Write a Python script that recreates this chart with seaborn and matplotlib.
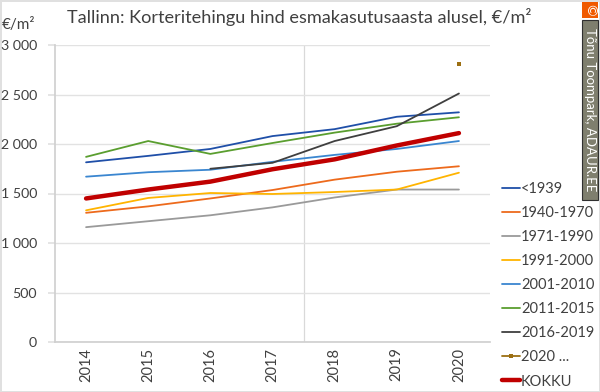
import matplotlib
matplotlib.use("Agg")
import matplotlib.pyplot as plt
from matplotlib.patches import Rectangle
import numpy as np
import pandas as pd
import seaborn as sns

years = [2014, 2015, 2016, 2017, 2018, 2019, 2020]
yticks = [0, 500, 1000, 1500, 2000, 2500, 3000]
ytick_labels = ["0", "500", "1 000", "1 500", "2 000", "2 500", "3 000"]

v_1939 = [1815, 1880, 1950, 2080, 2150, 2275, 2320]
v_1940 = [1305, 1370, 1450, 1535, 1640, 1720, 1775]
v_1971 = [1160, 1220, 1280, 1360, 1460, 1540, 1540]
v_1991 = [1330, 1455, 1505, 1495, 1515, 1540, 1710]
v_2001 = [1670, 1715, 1740, 1820, 1890, 1950, 2030]
v_2011 = [1870, 2030, 1900, 2010, 2115, 2205, 2270]
v_2016 = [np.nan, np.nan, 1750, 1810, 2030, 2180, 2510]
v_2020 = [np.nan, np.nan, np.nan, np.nan, np.nan, np.nan, 2810]
v_kokku = [1450, 1540, 1620, 1745, 1845, 1985, 2110]

names = ["<1939", "1940-1970", "1971-1990", "1991-2000", "2001-2010",
         "2011-2015", "2016-2019", "2020 ...", "KOKKU"]
series = [v_1939, v_1940, v_1971, v_1991, v_2001, v_2011, v_2016, v_2020, v_kokku]
colors = ["#1f4fa8", "#ed6a1c", "#9a9a9a", "#ffb400", "#3a86d0",
          "#5a9e2f", "#3f3f3f", "#9c6f12", "#c00000"]
widths = [1.3, 1.3, 1.3, 1.3, 1.3, 1.3, 1.3, 1.3, 3.2]

sns.set_theme(style="white")
plt.rcParams["font.family"] = ["Lato", "DejaVu Sans"]
text_col = "#404040"

fig = plt.figure(figsize=(6, 3.92), dpi=100, facecolor="white",
                 edgecolor="#e0e0e0", linewidth=1)
ax = fig.add_axes([55 / 600, 1 - 342 / 392, 435 / 600, 297 / 392])

for name, vals, col, w in zip(names, series, colors, widths):
    df = pd.DataFrame({"year": years, "hind": vals})
    if name == "2020 ...":
        sns.lineplot(data=df, x="year", y="hind", ax=ax, color=col, linewidth=w,
                     marker="s", markersize=3.5, markeredgewidth=0, label=name)
    else:
        sns.lineplot(data=df, x="year", y="hind", ax=ax, color=col, linewidth=w,
                     label=name, solid_capstyle="round")

ax.set_xlim(2013.5, 2020.5)
ax.set_ylim(0, 3000)
ax.set_xticks(years)
ax.set_xticklabels(years, rotation=90, fontsize=10.5, color=text_col)
ax.set_yticks(yticks)
ax.set_yticklabels(ytick_labels, fontsize=10.2, color=text_col)
ax.set_xlabel("")
ax.set_ylabel("")
ax.grid(axis="y", color="#e2e2e2", linewidth=1)
ax.set_axisbelow(True)
ax.axvline(2017.5, color="#d9d9d9", linewidth=0.9, zorder=0)
ax.tick_params(axis="y", length=5, color="#e2e2e2", pad=8, left=True)
ax.tick_params(axis="x", length=0, pad=4)
for side in ["top", "right"]:
    ax.spines[side].set_visible(False)
ax.spines["left"].set_color("#d0d0d0")
ax.spines["bottom"].set_color("#d0d0d0")

ax.legend(loc="upper left", bbox_to_anchor=(502 / 600, 1 - 182 / 392),
          bbox_transform=fig.transFigure, frameon=False, fontsize=10.5,
          labelspacing=0.69, handlelength=1.2, handletextpad=0.1,
          labelcolor=text_col, borderpad=0, borderaxespad=0)

fig.text(67 / 600, 1 - 17 / 392, "Tallinn: Korteritehingu hind esmakasutusaasta alusel, €/m²",
         fontsize=13.1, color=text_col, va="center", ha="left")
fig.text(2 / 600, 1 - 25 / 392, "€/m²", fontsize=11, color=text_col, va="center", ha="left")

# autori märge paremas servas
fig.add_artist(Rectangle((582 / 600, 1 - 200 / 392), 16 / 600, 180 / 392, transform=fig.transFigure,
                         fc="#7f7f6e", ec="#303030", lw=0.8))
fig.add_artist(Rectangle((582 / 600, 1 - 18 / 392), 16 / 600, 16 / 392, transform=fig.transFigure,
                         fc="#f05a00", ec="none"))
fig.text(590 / 600, 1 - 110 / 392, "Tõnu Toompark, ADAUR.EE", rotation=270, fontsize=9.5,
         color="white", va="center", ha="center")
fig.text(590 / 600, 1 - 10 / 392, "©", rotation=270, fontsize=10, color="white",
         va="center", ha="center")

fig.savefig("out.png", dpi=100)
